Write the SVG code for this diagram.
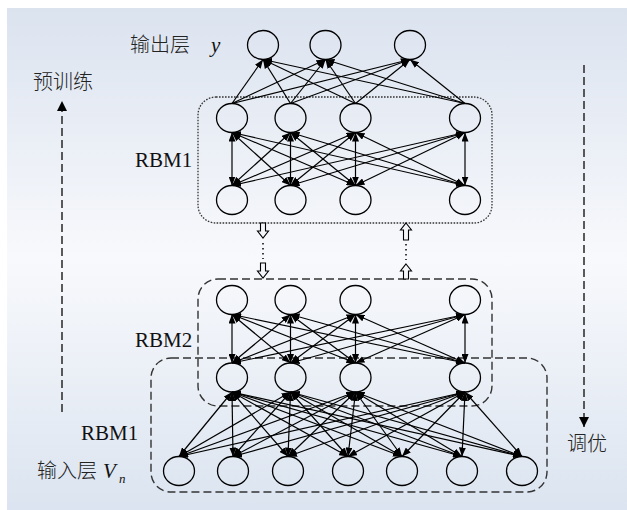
<svg xmlns="http://www.w3.org/2000/svg" width="627" height="510" viewBox="0 0 627 510">
  <defs>
    <linearGradient id="bg" x1="0" y1="0" x2="0" y2="1">
      <stop offset="0" stop-color="#dbe3ef"/>
      <stop offset="0.5" stop-color="#f8f9fc"/>
      <stop offset="1" stop-color="#dbe4f0"/>
    </linearGradient>
    <marker id="ah" viewBox="0 0 9 7" refX="9" refY="3.5" markerWidth="9" markerHeight="7" markerUnits="userSpaceOnUse" orient="auto-start-reverse">
      <path d="M0,0 L9,3.5 L0,7 z" fill="#000"/>
    </marker>
    <marker id="ahBig" viewBox="0 0 10 10" refX="10" refY="5" markerWidth="10" markerHeight="11" markerUnits="userSpaceOnUse" orient="auto">
      <path d="M0,0 L10,5 L0,10 z" fill="#000"/>
    </marker>
  </defs>
  <style>
    .node { fill: none; stroke: #000; stroke-width: 1.3; }
    .uni { stroke: #000; stroke-width: 1.2; marker-end: url(#ah); }
    .bi { stroke: #000; stroke-width: 1.2; marker-start: url(#ah); marker-end: url(#ah); }
    .dotbox { fill: none; stroke: #333; stroke-width: 1.3; stroke-dasharray: 1.6 1.4; }
    .dashbox { fill: none; stroke: #333; stroke-width: 1.4; stroke-dasharray: 8 4; }
    .flow { stroke: #333; stroke-width: 1.6; stroke-dasharray: 8 4; fill: none; }
    .hollow { fill: #f4f6fa; stroke: #000; stroke-width: 1.1; }
    .dots { stroke: #000; stroke-width: 1.5; stroke-dasharray: 1.5 3.5; }
    .cjk { font-family: "Noto Sans CJK SC", "Noto Sans", sans-serif; font-size: 20px; font-weight: 300; fill: #222; }
    .lat { font-family: "Liberation Serif", "Times New Roman", serif; font-size: 21px; fill: #111; }
    .var { font-family: "Liberation Serif", "Times New Roman", serif; font-style: italic; fill: #111; }
  </style>

  <!-- background panel -->
  <rect x="0" y="0" width="627" height="510" fill="#ffffff"/>
  <rect x="7" y="8" width="620" height="502" fill="url(#bg)"/>

  <!-- layer boxes -->
  <g id="box-rbm1-top">
    <rect class="dotbox" x="198" y="97" width="294" height="126" rx="18" ry="18"/>
  </g>
  <g id="box-rbm2">
    <rect class="dashbox" x="198" y="279" width="294" height="127" rx="20" ry="20"/>
  </g>
  <g id="box-rbm1-bottom">
    <rect class="dashbox" x="151" y="358" width="396" height="134" rx="20" ry="20"/>
  </g>

  <!-- connectors -->
  <g id="connectors">
    <!-- hidden to output -->
    <line class="uni" x1="232" y1="103.5" x2="263" y2="59.5"/>
    <line class="uni" x1="232" y1="103.5" x2="325.5" y2="59.5"/>
    <line class="uni" x1="232" y1="103.5" x2="410" y2="59.5"/>
    <line class="uni" x1="290.5" y1="103.5" x2="263" y2="59.5"/>
    <line class="uni" x1="290.5" y1="103.5" x2="325.5" y2="59.5"/>
    <line class="uni" x1="290.5" y1="103.5" x2="410" y2="59.5"/>
    <line class="uni" x1="355.5" y1="103.5" x2="263" y2="59.5"/>
    <line class="uni" x1="355.5" y1="103.5" x2="325.5" y2="59.5"/>
    <line class="uni" x1="355.5" y1="103.5" x2="410" y2="59.5"/>
    <line class="uni" x1="465" y1="103.5" x2="263" y2="59.5"/>
    <line class="uni" x1="465" y1="103.5" x2="325.5" y2="59.5"/>
    <line class="uni" x1="465" y1="103.5" x2="410" y2="59.5"/>

    <!-- upper RBM1 -->
    <line class="bi" x1="232" y1="132.5" x2="232" y2="185.5"/>
    <line class="bi" x1="232" y1="132.5" x2="290.5" y2="185.5"/>
    <line class="bi" x1="232" y1="132.5" x2="355.5" y2="185.5"/>
    <line class="bi" x1="232" y1="132.5" x2="465" y2="185.5"/>
    <line class="bi" x1="290.5" y1="132.5" x2="232" y2="185.5"/>
    <line class="bi" x1="290.5" y1="132.5" x2="290.5" y2="185.5"/>
    <line class="bi" x1="290.5" y1="132.5" x2="355.5" y2="185.5"/>
    <line class="bi" x1="290.5" y1="132.5" x2="465" y2="185.5"/>
    <line class="bi" x1="355.5" y1="132.5" x2="232" y2="185.5"/>
    <line class="bi" x1="355.5" y1="132.5" x2="290.5" y2="185.5"/>
    <line class="bi" x1="355.5" y1="132.5" x2="355.5" y2="185.5"/>
    <line class="bi" x1="355.5" y1="132.5" x2="465" y2="185.5"/>
    <line class="bi" x1="465" y1="132.5" x2="232" y2="185.5"/>
    <line class="bi" x1="465" y1="132.5" x2="290.5" y2="185.5"/>
    <line class="bi" x1="465" y1="132.5" x2="355.5" y2="185.5"/>
    <line class="bi" x1="465" y1="132.5" x2="465" y2="185.5"/>

    <!-- RBM2 -->
    <line class="bi" x1="232" y1="314.5" x2="232" y2="363"/>
    <line class="bi" x1="232" y1="314.5" x2="290.5" y2="363"/>
    <line class="bi" x1="232" y1="314.5" x2="355.5" y2="363"/>
    <line class="bi" x1="232" y1="314.5" x2="465" y2="363"/>
    <line class="bi" x1="290.5" y1="314.5" x2="232" y2="363"/>
    <line class="bi" x1="290.5" y1="314.5" x2="290.5" y2="363"/>
    <line class="bi" x1="290.5" y1="314.5" x2="355.5" y2="363"/>
    <line class="bi" x1="290.5" y1="314.5" x2="465" y2="363"/>
    <line class="bi" x1="355.5" y1="314.5" x2="232" y2="363"/>
    <line class="bi" x1="355.5" y1="314.5" x2="290.5" y2="363"/>
    <line class="bi" x1="355.5" y1="314.5" x2="355.5" y2="363"/>
    <line class="bi" x1="355.5" y1="314.5" x2="465" y2="363"/>
    <line class="bi" x1="465" y1="314.5" x2="232" y2="363"/>
    <line class="bi" x1="465" y1="314.5" x2="290.5" y2="363"/>
    <line class="bi" x1="465" y1="314.5" x2="355.5" y2="363"/>
    <line class="bi" x1="465" y1="314.5" x2="465" y2="363"/>

    <!-- lower RBM1 -->
    <line class="bi" x1="232" y1="392" x2="179" y2="456.5"/>
    <line class="bi" x1="232" y1="392" x2="233" y2="456.5"/>
    <line class="bi" x1="232" y1="392" x2="288" y2="456.5"/>
    <line class="bi" x1="232" y1="392" x2="348" y2="456.5"/>
    <line class="bi" x1="232" y1="392" x2="402" y2="456.5"/>
    <line class="bi" x1="232" y1="392" x2="462" y2="456.5"/>
    <line class="bi" x1="232" y1="392" x2="522" y2="456.5"/>
    <line class="bi" x1="290.5" y1="392" x2="179" y2="456.5"/>
    <line class="bi" x1="290.5" y1="392" x2="233" y2="456.5"/>
    <line class="bi" x1="290.5" y1="392" x2="288" y2="456.5"/>
    <line class="bi" x1="290.5" y1="392" x2="348" y2="456.5"/>
    <line class="bi" x1="290.5" y1="392" x2="402" y2="456.5"/>
    <line class="bi" x1="290.5" y1="392" x2="462" y2="456.5"/>
    <line class="bi" x1="290.5" y1="392" x2="522" y2="456.5"/>
    <line class="bi" x1="355.5" y1="392" x2="179" y2="456.5"/>
    <line class="bi" x1="355.5" y1="392" x2="233" y2="456.5"/>
    <line class="bi" x1="355.5" y1="392" x2="288" y2="456.5"/>
    <line class="bi" x1="355.5" y1="392" x2="348" y2="456.5"/>
    <line class="bi" x1="355.5" y1="392" x2="402" y2="456.5"/>
    <line class="bi" x1="355.5" y1="392" x2="462" y2="456.5"/>
    <line class="bi" x1="355.5" y1="392" x2="522" y2="456.5"/>
    <line class="bi" x1="465" y1="392" x2="179" y2="456.5"/>
    <line class="bi" x1="465" y1="392" x2="233" y2="456.5"/>
    <line class="bi" x1="465" y1="392" x2="288" y2="456.5"/>
    <line class="bi" x1="465" y1="392" x2="348" y2="456.5"/>
    <line class="bi" x1="465" y1="392" x2="402" y2="456.5"/>
    <line class="bi" x1="465" y1="392" x2="462" y2="456.5"/>
    <line class="bi" x1="465" y1="392" x2="522" y2="456.5"/>

    <!-- hand-over between the two stacks -->
    <polygon class="hollow" points="260.5,223 265.5,223 265.5,231 268.5,231 263,238 257.5,231 260.5,231"/>
    <line class="dots" x1="263" y1="243" x2="263" y2="259"/>
    <polygon class="hollow" points="260.5,263 265.5,263 265.5,271 268.5,271 263,278 257.5,271 260.5,271"/>
    <polygon class="hollow" points="406,223 411.5,230 408.5,230 408.5,240 403.5,240 403.5,230 400.5,230"/>
    <line class="dots" x1="406" y1="244" x2="406" y2="260"/>
    <polygon class="hollow" points="406,264 411.5,271 408.5,271 408.5,279 403.5,279 403.5,271 400.5,271"/>

    <!-- training direction arrows -->
    <line class="flow" x1="62" y1="412" x2="62" y2="101" marker-end="url(#ahBig)"/>
    <line class="flow" x1="584" y1="65" x2="584" y2="427" marker-end="url(#ahBig)"/>
  </g>

  <!-- output layer -->
  <g id="out-1"><ellipse class="node" cx="263" cy="45" rx="15.5" ry="14.5"/></g>
  <g id="out-2"><ellipse class="node" cx="325.5" cy="45" rx="15.5" ry="14.5"/></g>
  <g id="out-3"><ellipse class="node" cx="410" cy="45" rx="15.5" ry="14.5"/></g>

  <!-- upper RBM1 hidden -->
  <g id="h1-1"><ellipse class="node" cx="232" cy="118" rx="15.5" ry="14.5"/></g>
  <g id="h1-2"><ellipse class="node" cx="290.5" cy="118" rx="15.5" ry="14.5"/></g>
  <g id="h1-3"><ellipse class="node" cx="355.5" cy="118" rx="15.5" ry="14.5"/></g>
  <g id="h1-4"><ellipse class="node" cx="465" cy="118" rx="15.5" ry="14.5"/></g>

  <!-- upper RBM1 visible -->
  <g id="v1-1"><ellipse class="node" cx="232" cy="200" rx="15.5" ry="14.5"/></g>
  <g id="v1-2"><ellipse class="node" cx="290.5" cy="200" rx="15.5" ry="14.5"/></g>
  <g id="v1-3"><ellipse class="node" cx="355.5" cy="200" rx="15.5" ry="14.5"/></g>
  <g id="v1-4"><ellipse class="node" cx="465" cy="200" rx="15.5" ry="14.5"/></g>

  <!-- RBM2 hidden -->
  <g id="h2-1"><ellipse class="node" cx="232" cy="300" rx="15.5" ry="14.5"/></g>
  <g id="h2-2"><ellipse class="node" cx="290.5" cy="300" rx="15.5" ry="14.5"/></g>
  <g id="h2-3"><ellipse class="node" cx="355.5" cy="300" rx="15.5" ry="14.5"/></g>
  <g id="h2-4"><ellipse class="node" cx="465" cy="300" rx="15.5" ry="14.5"/></g>

  <!-- RBM2 visible / lower RBM1 hidden -->
  <g id="h3-1"><ellipse class="node" cx="232" cy="377.5" rx="15.5" ry="14.5"/></g>
  <g id="h3-2"><ellipse class="node" cx="290.5" cy="377.5" rx="15.5" ry="14.5"/></g>
  <g id="h3-3"><ellipse class="node" cx="355.5" cy="377.5" rx="15.5" ry="14.5"/></g>
  <g id="h3-4"><ellipse class="node" cx="465" cy="377.5" rx="15.5" ry="14.5"/></g>

  <!-- input layer -->
  <g id="in-1"><ellipse class="node" cx="179" cy="471" rx="15.5" ry="14.5"/></g>
  <g id="in-2"><ellipse class="node" cx="233" cy="471" rx="15.5" ry="14.5"/></g>
  <g id="in-3"><ellipse class="node" cx="288" cy="471" rx="15.5" ry="14.5"/></g>
  <g id="in-4"><ellipse class="node" cx="348" cy="471" rx="15.5" ry="14.5"/></g>
  <g id="in-5"><ellipse class="node" cx="402" cy="471" rx="15.5" ry="14.5"/></g>
  <g id="in-6"><ellipse class="node" cx="462" cy="471" rx="15.5" ry="14.5"/></g>
  <g id="in-7"><ellipse class="node" cx="522" cy="471" rx="15.5" ry="14.5"/></g>

  <!-- labels -->
  <g id="labels">
    <text class="cjk" x="130" y="52">输出层</text>
    <text class="var" x="211" y="52" font-size="21">y</text>
    <text class="cjk" x="33" y="89">预训练</text>
    <text class="lat" x="135" y="167">RBM1</text>
    <text class="lat" x="135" y="347">RBM2</text>
    <text class="lat" x="81" y="440">RBM1</text>
    <text class="cjk" x="37" y="478">输入层</text>
    <text class="var" x="103" y="478" font-size="21">V</text>
    <text class="var" x="119" y="483" font-size="13">n</text>
    <text class="cjk" x="567" y="451">调优</text>
  </g>
</svg>
